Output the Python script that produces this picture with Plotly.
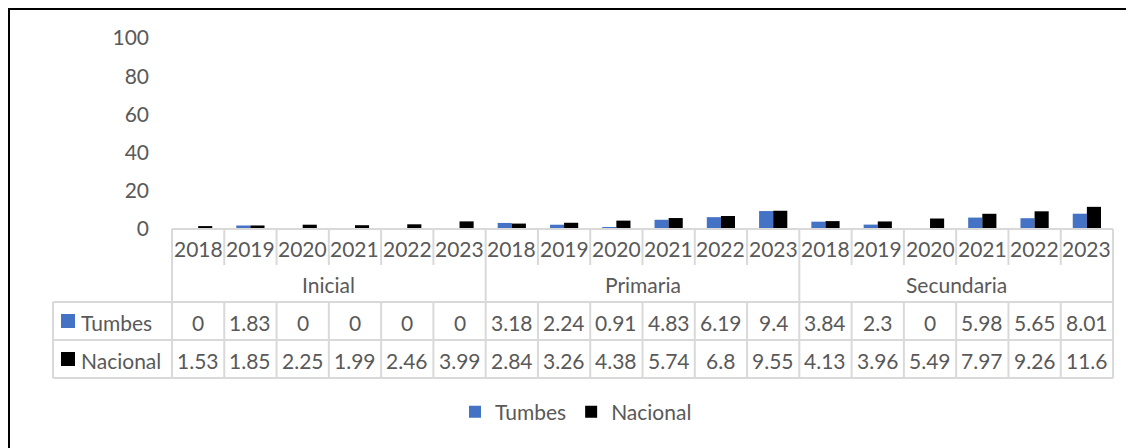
import plotly.graph_objects as go

# ---------------- data ----------------
levels = ["Inicial", "Primaria", "Secundaria"]
years = ["2018", "2019", "2020", "2021", "2022", "2023"]
series_names = ["Tumbes", "Nacional"]
tumbes = [0, 1.83, 0, 0, 0, 0,
          3.18, 2.24, 0.91, 4.83, 6.19, 9.4,
          3.84, 2.3, 0, 5.98, 5.65, 8.01]
nacional = [1.53, 1.85, 2.25, 1.99, 2.46, 3.99,
            2.84, 3.26, 4.38, 5.74, 6.8, 9.55,
            4.13, 3.96, 5.49, 7.97, 9.26, 11.6]
y_ticks = [0, 20, 40, 60, 80, 100]

# ---------------- style ----------------
colors = ["#4472C4", "#000000"]
txt = "#595959"
grid = "#D9D9D9"
FONT = "Lato"
FS = 21

OFF = 8  # page body margin
W, H = 1134 - OFF, 448 - OFF
L, R, T, B = 172, 1113, 38, 229  # plot area in page pixels
pw, ph = R - L, B - T


def px(x):
    return (x - L) / pw


def py(y):
    return (B - y) / ph


n = len(tumbes)
ng = len(years)
xs = list(range(n))

fig = go.Figure()
for name, vals, c in zip(series_names, [tumbes, nacional], colors):
    fig.add_trace(go.Bar(x=xs, y=vals, name=name, marker_color=c,
                         marker_line_width=0))

shapes = []
ann = []

# table geometry (page pixels)
row_top, row_year, row_cat, row_t, row_n = 229, 265, 302, 340, 378
lab_left = 53


def line(x0, y0, x1, y1, color=grid, w=2):
    shapes.append(dict(type="line", xref="paper", yref="paper",
                       x0=x0, y0=y0, x1=x1, y1=y1,
                       line=dict(color=color, width=w)))


line(0, py(row_top), 1, py(row_top))
for k in range(n + 1):
    xk = k / n
    if k % ng == 0:
        line(xk, py(row_top), xk, py(row_n))
    else:
        line(xk, py(row_top), xk, py(row_year))
        line(xk, py(row_cat), xk, py(row_n))
for yy in (row_cat, row_t, row_n):
    line(px(lab_left), py(yy), 1, py(yy))
line(px(lab_left), py(row_cat), px(lab_left), py(row_n))

for i in range(n):
    ann.append(dict(x=(i + 0.5) / n, y=py((row_top + row_year) / 2 + 1),
                    text=years[i % ng]))
for g, lv in enumerate(levels):
    ann.append(dict(x=(g * ng + ng / 2) / n, y=py((row_year + row_cat) / 2 + 1),
                    text=lv))
for vals, (ya, yb) in zip([tumbes, nacional], [(row_cat, row_t), (row_t, row_n)]):
    for i, v in enumerate(vals):
        ann.append(dict(x=(i + 0.5) / n, y=py((ya + yb) / 2 + 1),
                        text="{:g}".format(v)))
for name, c, (ya, yb) in zip(series_names, colors, [(row_cat, row_t), (row_t, row_n)]):
    ym = (ya + yb) / 2
    shapes.append(dict(type="rect", xref="paper", yref="paper",
                       x0=px(61), x1=px(75), y0=py(ym - 7), y1=py(ym + 7),
                       fillcolor=c, line=dict(width=0)))
    ann.append(dict(x=px(79), y=py(ym + 1), text=name, xanchor="left"))

for a in ann:
    a.setdefault("xanchor", "center")
    a.update(xref="paper", yref="paper", yanchor="middle", showarrow=False,
             font=dict(family=FONT, size=FS, color=txt))

# outer chart border (runs off the right / bottom edge)
shapes.append(dict(type="rect", xref="paper", yref="paper",
                   x0=px(9), x1=px(1134 + 20), y0=py(448 + 20), y1=py(9),
                   line=dict(color="#000000", width=2), fillcolor="rgba(0,0,0,0)",
                   layer="below"))

fig.update_layout(
    width=W, height=H,
    margin=dict(l=L - OFF, r=1134 - R, t=T - OFF, b=448 - B),
    paper_bgcolor="white", plot_bgcolor="white",
    barmode="group", bargap=0.46, bargroupgap=0,
    font=dict(family=FONT, size=FS, color=txt),
    showlegend=True,
    legend=dict(orientation="h", x=px(576), xanchor="center",
                y=py(412), yanchor="middle",
                font=dict(family=FONT, size=FS, color=txt),
                itemwidth=30, tracegroupgap=0),
    shapes=shapes,
    annotations=ann,
    xaxis=dict(range=[-0.5, n - 0.5], showticklabels=False, showgrid=False,
               zeroline=False, showline=False, ticks=""),
    yaxis=dict(range=[0, 100], tickvals=y_ticks, showgrid=False,
               zeroline=False, showline=False, ticks="",
               ticklabelstandoff=22,
               tickfont=dict(family=FONT, size=FS, color=txt)),
)

fig.write_html("out.html")
